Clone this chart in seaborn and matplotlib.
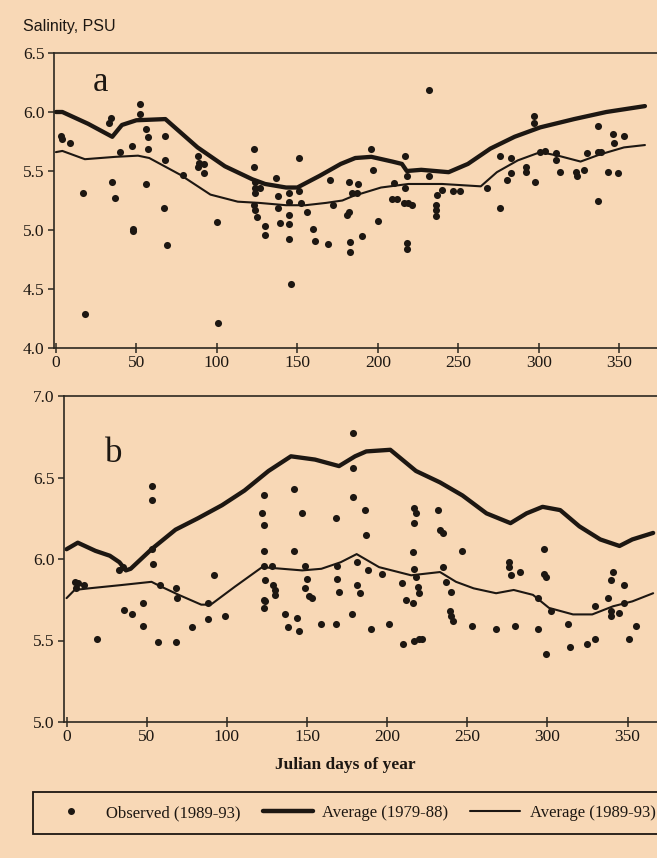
import matplotlib
matplotlib.use("Agg")
import matplotlib.pyplot as plt
import seaborn as sns
import pandas as pd
from matplotlib.lines import Line2D
from matplotlib.ticker import FormatStrFormatter

# ---------------------------------------------------------------- data
# (a) surface station: long-term mean 1979-88 and mean 1989-93
a_avg7988_day = [0, 4, 20, 35, 41, 50, 68, 88, 105, 122, 130, 143, 150, 164, 177,
                 186, 196, 209, 215, 218, 227, 244, 256, 270, 285, 301, 322, 342, 366]
a_avg7988_val = [6.00, 6.00, 5.90, 5.79, 5.89, 5.93, 5.94, 5.70, 5.54, 5.43, 5.39, 5.36,
                 5.36, 5.46, 5.56, 5.61, 5.62, 5.58, 5.56, 5.50, 5.51, 5.49, 5.56, 5.69,
                 5.79, 5.87, 5.94, 6.00, 6.05]

a_avg8993_day = [0, 4, 18, 37, 51, 58, 77, 96, 113, 126, 143, 155, 168, 178, 185, 190,
                 202, 219, 240, 264, 274, 287, 301, 312, 326, 338, 353, 366]
a_avg8993_val = [5.66, 5.67, 5.60, 5.62, 5.63, 5.61, 5.47, 5.30, 5.24, 5.23, 5.21, 5.21,
                 5.23, 5.25, 5.29, 5.31, 5.36, 5.39, 5.39, 5.37, 5.49, 5.59, 5.66, 5.63,
                 5.58, 5.64, 5.70, 5.72]

a_obs_day = [3, 4, 9, 17, 18, 33, 34, 35, 37, 40, 47, 48, 48, 52, 52, 56, 57, 57, 56,
             68, 68, 67, 69, 79, 88, 88, 92, 92, 89, 100, 101,
             123, 123, 124, 124, 127, 124, 123, 124, 125, 130, 130, 137, 138, 138, 139,
             145, 145, 145, 145, 145, 146, 151, 151, 152, 156, 160, 161, 170, 169, 172,
             181, 182, 183, 183, 182, 184,
             187, 188, 196, 197, 190, 200, 210, 209, 212, 217, 218, 217, 216, 219, 221,
             218, 218, 232, 232, 236, 236, 236, 237, 240, 247, 251, 268, 276, 283, 276,
             280, 283, 292, 292, 298, 297, 297, 301, 304, 311, 311, 313, 323, 324, 328,
             330, 337, 337, 339, 337, 343, 349, 346, 347, 353]
a_obs_val = [5.80, 5.77, 5.74, 5.31, 4.29, 5.91, 5.95, 5.41, 5.27, 5.66, 5.71, 5.01, 4.99,
             6.07, 5.98, 5.86, 5.79, 5.69, 5.39, 5.80, 5.59, 5.19, 4.87, 5.47, 5.63, 5.53,
             5.56, 5.48, 5.57, 5.07, 4.21,
             5.69, 5.53, 5.41, 5.36, 5.36, 5.31, 5.21, 5.17, 5.11, 5.03, 4.96, 5.44, 5.29,
             5.19, 5.06, 5.31, 5.24, 5.13, 5.05, 4.92, 4.54, 5.61, 5.33, 5.23, 5.15, 5.01,
             4.91, 5.42, 4.88, 5.21, 5.13, 5.15, 4.90, 4.81, 5.41, 5.31,
             5.31, 5.39, 5.69, 5.51, 4.95, 5.08, 5.40, 5.26, 5.26, 5.63, 5.46, 5.36, 5.23,
             5.23, 5.21, 4.89, 4.84, 6.19, 5.46, 5.21, 5.17, 5.12, 5.30, 5.34, 5.33, 5.33,
             5.36, 5.63, 5.61, 5.19, 5.42, 5.48, 5.53, 5.49, 5.41, 5.97, 5.91, 5.66, 5.67,
             5.65, 5.59, 5.49, 5.49, 5.46, 5.51, 5.65, 5.88, 5.66, 5.66, 5.25, 5.49, 5.48,
             5.81, 5.74, 5.80]

# (b) bottom station
b_avg7988_day = [0, 7, 18, 27, 33, 37, 40, 53, 68, 82, 97, 111, 126, 140, 155, 170, 180,
                 187, 202, 218, 233, 247, 262, 277, 287, 297, 308, 320, 333, 345, 353, 366]
b_avg7988_val = [6.06, 6.10, 6.05, 6.02, 5.98, 5.93, 5.94, 6.06, 6.18, 6.25, 6.33, 6.42,
                 6.54, 6.63, 6.61, 6.57, 6.63, 6.66, 6.67, 6.54, 6.47, 6.39, 6.28, 6.22,
                 6.28, 6.32, 6.30, 6.20, 6.12, 6.08, 6.12, 6.16]

b_avg8993_day = [0, 5, 14, 34, 53, 57, 70, 84, 90, 105, 122, 147, 159, 171, 181, 195, 215,
                 233, 243, 254, 268, 279, 291, 301, 316, 328, 341, 353, 366]
b_avg8993_val = [5.76, 5.81, 5.82, 5.84, 5.86, 5.84, 5.78, 5.72, 5.72, 5.83, 5.95, 5.93,
                 5.94, 5.98, 6.03, 5.95, 5.90, 5.92, 5.86, 5.82, 5.79, 5.81, 5.78, 5.70,
                 5.66, 5.66, 5.71, 5.74, 5.79]

b_obs_day = [5, 6, 7, 11, 19, 33, 35, 36, 41, 48, 48, 53, 53, 53, 54, 57, 58, 68, 68, 69,
             78, 88, 88, 92, 99,
             123, 122, 123, 123, 123, 128, 124, 129, 130, 130, 123, 124, 123, 136, 138,
             144, 145, 142, 147, 142, 149, 150, 149, 151, 153, 159, 168, 168, 169, 169,
             170, 179, 179, 179, 178,
             186, 187, 181, 188, 197, 181, 183, 190, 201, 210, 209, 212, 216, 217, 218,
             217, 216, 217, 218, 219, 220, 217, 220, 222, 232, 233, 235, 235, 237, 240,
             239, 240, 241, 247, 253, 268, 280, 276, 276, 277, 283, 294, 294, 298, 298,
             299, 302, 299, 313, 314, 325, 330, 330, 338, 341, 340, 348, 340, 340, 345,
             348, 355, 351]
b_obs_val = [5.86, 5.82, 5.85, 5.84, 5.51, 5.93, 5.95, 5.69, 5.66, 5.73, 5.59, 6.45, 6.36,
             6.06, 5.97, 5.49, 5.84, 5.49, 5.82, 5.76, 5.58, 5.73, 5.63, 5.90, 5.65,
             6.39, 6.28, 6.21, 6.05, 5.96, 5.96, 5.87, 5.84, 5.81, 5.78, 5.75, 5.74, 5.70,
             5.66, 5.58, 5.64, 5.56, 6.43, 6.28, 6.05, 5.96, 5.88, 5.82, 5.77, 5.76, 5.60,
             5.60, 6.25, 5.96, 5.88, 5.80, 6.77, 6.56, 6.38, 5.66,
             6.30, 6.15, 5.98, 5.93, 5.91, 5.84, 5.79, 5.57, 5.60, 5.48, 5.85, 5.75, 5.73,
             6.31, 6.28, 6.22, 6.04, 5.94, 5.89, 5.83, 5.79, 5.50, 5.51, 5.51, 6.30, 6.18,
             6.16, 5.95, 5.86, 5.80, 5.68, 5.65, 5.62, 6.05, 5.59, 5.57, 5.59, 5.98, 5.95,
             5.90, 5.92, 5.76, 5.57, 6.06, 5.91, 5.89, 5.68, 5.42, 5.60, 5.46, 5.48, 5.51,
             5.71, 5.76, 5.92, 5.87, 5.84, 5.68, 5.65, 5.67, 5.73, 5.59, 5.51]

x_ticks = [0, 50, 100, 150, 200, 250, 300, 350]
a_yticks = [4.0, 4.5, 5.0, 5.5, 6.0, 6.5]
b_yticks = [5.0, 5.5, 6.0, 6.5, 7.0]

legend_labels = ["Observed (1989-93)", "Average (1979-88)", "Average (1989-93)"]

# ---------------------------------------------------------------- style
PAPER = "#f8d8b6"
INK = "#1d1712"
SPINE = "#2c2820"

sns.set_theme(style="ticks")
plt.rcParams["font.family"] = ["Liberation Serif", "DejaVu Serif"]
plt.rcParams["axes.facecolor"] = PAPER
plt.rcParams["figure.facecolor"] = PAPER

fig = plt.figure(figsize=(6.57, 8.58), dpi=100)
ax_a = fig.add_axes([54 / 657, 1 - 348 / 858, 603 / 657, 295 / 858])
ax_b = fig.add_axes([64 / 657, 1 - 722 / 858, 593 / 657, 326 / 858])


def draw_panel(ax, d79, v79, d89, v89, dobs, vobs, yticks, xlim, ylim):
    sns.lineplot(x=d79, y=v79, ax=ax, color=INK, lw=3.1, estimator=None,
                 sort=False, solid_joinstyle="round", solid_capstyle="round")
    sns.lineplot(x=d89, y=v89, ax=ax, color=INK, lw=1.5, estimator=None,
                 sort=False)
    sns.scatterplot(x=dobs, y=vobs, ax=ax, color=INK, s=26, linewidth=0,
                    zorder=3)
    ax.set_xlim(*xlim)
    ax.set_ylim(*ylim)
    ax.set_xticks(x_ticks)
    ax.set_yticks(yticks)
    ax.yaxis.set_major_formatter(FormatStrFormatter("%.1f"))
    ax.set_xlabel("")
    ax.set_ylabel("")
    for side in ("left", "bottom", "top"):
        ax.spines[side].set_color(SPINE)
        ax.spines[side].set_linewidth(1.2)
    ax.spines["right"].set_visible(False)
    ax.tick_params(axis="x", direction="inout", length=7, width=1.1,
                   color=SPINE, pad=1.5, labelsize=12.5, labelcolor=INK)
    ax.tick_params(axis="y", direction="out", length=4, width=1.1,
                   color=SPINE, pad=3, labelsize=12.5, labelcolor=INK)


draw_panel(ax_a, a_avg7988_day, a_avg7988_val, a_avg8993_day, a_avg8993_val,
           a_obs_day, a_obs_val, a_yticks, (-1.2, 373.5), (4.0, 6.5))
draw_panel(ax_b, b_avg7988_day, b_avg7988_val, b_avg8993_day, b_avg8993_val,
           b_obs_day, b_obs_val, b_yticks, (-1.6, 368.4), (5.0, 7.0))

ax_a.text(0.065, 0.871, "a", transform=ax_a.transAxes, fontsize=25,
          color=INK, ha="left", va="baseline")
ax_b.text(0.069, 0.798, "b", transform=ax_b.transAxes, fontsize=25,
          color=INK, ha="left", va="baseline")

fig.text(23 / 657, 1 - 26 / 858, "Salinity, PSU", family="Liberation Sans",
         fontsize=11.5, color=INK, ha="left", va="center")
fig.text(345 / 657, 1 - 765 / 858, "Julian days of year", fontsize=12.5,
         fontweight="bold", color=INK, ha="center", va="center")

handles = [
    Line2D([], [], marker="o", ls="none", color=INK, ms=4),
    Line2D([], [], color=INK, lw=3.2),
    Line2D([], [], color=INK, lw=1.5),
]
leg = fig.legend(handles, legend_labels, loc="center left",
                 bbox_to_anchor=(33 / 657, 1 - 813 / 858), ncol=3,
                 frameon=True, fancybox=False, shadow=False,
                 edgecolor=INK, facecolor=PAPER, framealpha=1,
                 fontsize=12, handlelength=3.0, handletextpad=0.6,
                 columnspacing=1.3, borderpad=0.8, borderaxespad=0)
leg.get_frame().set_linewidth(1.3)
for t in leg.get_texts():
    t.set_color(INK)

fig.savefig("out.png", dpi=100, facecolor=PAPER)
